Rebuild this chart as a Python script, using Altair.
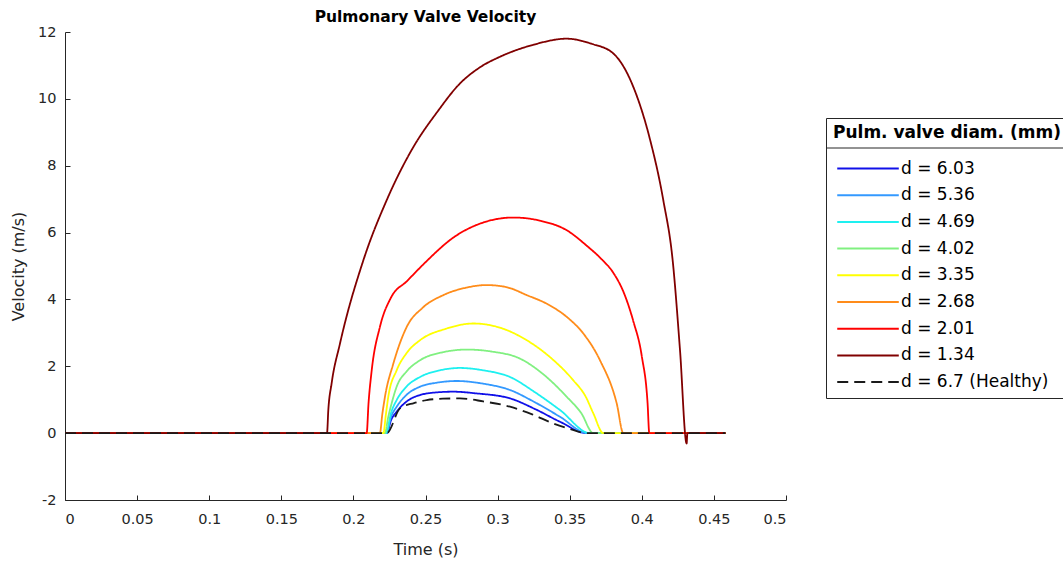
import altair as alt
import pandas as pd

# Series labels, colours and dash patterns (legend order)
series_names = [
    "d = 6.03", "d = 5.36", "d = 4.69", "d = 4.02",
    "d = 3.35", "d = 2.68", "d = 2.01", "d = 1.34",
    "d = 6.7 (Healthy)",
]
series_colors = [
    "#1010e8", "#3399ff", "#1ef0f0", "#80f080",
    "#ffff00", "#ff8c1a", "#ff0000", "#800000",
    "#1a1a1a",
]
series_dash = [[1, 0]] * 8 + [[11, 6]]

# Time (s) and velocity (m/s) samples for each valve diameter
t_603 = [0, 0.2231, 0.2262, 0.2300, 0.2370, 0.2462, 0.2580, 0.2693, 0.2850, 0.3086, 0.3260, 0.3433, 0.3618, 0.458]
v_603 = [0, 0, 0.40, 0.64, 0.95, 1.14, 1.22, 1.24, 1.19, 1.04, 0.72, 0.34, 0, 0]

t_536 = [0, 0.2228, 0.2262, 0.2300, 0.2370, 0.2462, 0.2580, 0.2716, 0.2900, 0.3086, 0.3260, 0.3433, 0.3622, 0.458]
v_536 = [0, 0, 0.50, 0.79, 1.15, 1.39, 1.51, 1.56, 1.48, 1.29, 0.92, 0.49, 0, 0]

t_469 = [0, 0.2226, 0.2262, 0.2300, 0.2370, 0.2462, 0.2600, 0.2739, 0.2900, 0.3086, 0.3260, 0.3433, 0.3641, 0.458]
v_469 = [0, 0, 0.62, 0.99, 1.40, 1.68, 1.88, 1.95, 1.88, 1.68, 1.22, 0.69, 0, 0]

t_402 = [0, 0.2219, 0.2240, 0.2265, 0.2300, 0.2370, 0.2462, 0.2620, 0.2786, 0.2960, 0.3155, 0.3320, 0.3479, 0.3580, 0.3664, 0.458]
v_402 = [0, 0, 0.45, 0.89, 1.39, 1.85, 2.18, 2.42, 2.50, 2.44, 2.23, 1.75, 1.09, 0.60, 0, 0]

t_335 = [0, 0.2208, 0.2225, 0.2242, 0.2300, 0.2370, 0.2462, 0.2640, 0.2832, 0.3020, 0.3202, 0.3370, 0.3525, 0.3610, 0.3664, 0.3733, 0.458]
v_335 = [0, 0, 0.55, 1.09, 1.88, 2.40, 2.78, 3.12, 3.28, 3.15, 2.78, 2.25, 1.58, 1.10, 0.59, 0, 0]

t_268 = [0, 0.2184, 0.2200, 0.2219, 0.2277, 0.2370, 0.2480, 0.2624, 0.2780, 0.2924, 0.3060, 0.3202, 0.3350, 0.3479, 0.3600, 0.3710, 0.3826, 0.3872, 0.458]
v_268 = [0, 0, 0.55, 1.09, 2.08, 3.18, 3.75, 4.13, 4.35, 4.43, 4.37, 4.13, 3.85, 3.48, 2.95, 2.18, 0.89, 0, 0]

t_201 = [0, 0.2092, 0.2105, 0.2127, 0.2184, 0.2260, 0.2372, 0.2497, 0.2693, 0.2900, 0.3109, 0.3300, 0.3479, 0.3620, 0.3722, 0.3802, 0.3880, 0.3941, 0.4000, 0.4040, 0.4052, 0.458]
v_201 = [0, 0, 0.90, 1.88, 3.18, 4.05, 4.55, 5.10, 5.85, 6.30, 6.45, 6.35, 6.07, 5.60, 5.20, 4.80, 4.15, 3.35, 2.30, 0.90, 0, 0]

t_134 = [0, 0.1817, 0.1826, 0.1849, 0.1907, 0.2069, 0.2231, 0.2416, 0.2580, 0.2739, 0.2880, 0.3017, 0.3250, 0.3479, 0.3650, 0.3802, 0.3941, 0.4050, 0.4149, 0.4214, 0.4265, 0.4311, 0.4316, 0.458]
v_134 = [0, 0, 0.69, 1.49, 2.68, 5.17, 6.97, 8.56, 9.60, 10.46, 10.95, 11.26, 11.62, 11.80, 11.65, 11.36, 10.36, 8.90, 6.97, 5.17, 2.48, -0.31, 0, 0]

t_healthy = [0, 0.2231, 0.2323, 0.2420, 0.2508, 0.2620, 0.2739, 0.2900, 0.3086, 0.3240, 0.3386, 0.3500, 0.3618, 0.458]
v_healthy = [0, 0, 0.74, 0.90, 0.99, 1.03, 1.04, 0.95, 0.79, 0.56, 0.29, 0.13, 0, 0]

x_ticks = [0, 0.05, 0.1, 0.15, 0.2, 0.25, 0.3, 0.35, 0.4, 0.45, 0.5]
y_ticks = [-2, 0, 2, 4, 6, 8, 10, 12]

t_lists = [t_603, t_536, t_469, t_402, t_335, t_268, t_201, t_134, t_healthy]
v_lists = [v_603, v_536, v_469, v_402, v_335, v_268, v_201, v_134, v_healthy]

rows = []
for name, ts, vs in zip(series_names, t_lists, v_lists):
    for i, (t, v) in enumerate(zip(ts, vs)):
        rows.append({"series": name, "t": t, "v": v, "i": i})
df = pd.DataFrame(rows)

W, H = 721, 468
FONT = "DejaVu Sans"
INK = "#262626"

x_scale = alt.Scale(domain=[0, 0.5], nice=False, zero=False)
y_scale = alt.Scale(domain=[-2, 12], nice=False, zero=False)
color_scale = alt.Scale(domain=series_names, range=series_colors)
dash_scale = alt.Scale(domain=series_names, range=series_dash)

legend = alt.Legend(
    title="Pulm. valve diam. (mm)",
    orient="none",
    legendX=761,
    legendY=86,
)

healthy = series_names[-1]
base = alt.Chart(df)

# Coloured curves carry the labelled axes
curves = base.transform_filter(alt.datum.series != healthy).mark_line(
    strokeWidth=1.8, interpolate="monotone"
).encode(
    x=alt.X("t:Q", scale=x_scale, axis=alt.Axis(
        title="Time (s)", values=x_ticks, format="~g", ticks=False, grid=False,
        labelPadding=12, titlePadding=16, domainColor=INK)),
    y=alt.Y("v:Q", scale=y_scale, axis=alt.Axis(
        title="Velocity (m/s)", values=y_ticks, labelExpr="'' + datum.value",
        ticks=False, grid=False, labelPadding=9, titlePadding=11, domainColor=INK)),
    color=alt.Color("series:N", scale=color_scale, legend=legend),
    strokeDash=alt.StrokeDash("series:N", scale=dash_scale, legend=legend),
    order="i:Q",
)

# Healthy reference curve on top; its axes draw the inward tick marks only
reference = base.transform_filter(alt.datum.series == healthy).mark_line(
    strokeWidth=1.8, interpolate="monotone"
).encode(
    x=alt.X("t:Q", scale=x_scale, axis=alt.Axis(
        orient="top", offset=-H, values=x_ticks, labels=False, domain=False,
        ticks=True, tickSize=5, tickColor=INK, grid=False, title=None)),
    y=alt.Y("v:Q", scale=y_scale, axis=alt.Axis(
        orient="right", offset=-W, values=y_ticks, labels=False, domain=False,
        ticks=True, tickSize=5, tickColor=INK, grid=False, title=None)),
    color=alt.Color("series:N", scale=color_scale, legend=legend),
    strokeDash=alt.StrokeDash("series:N", scale=dash_scale, legend=legend),
    order="i:Q",
)

# Rule under the legend title
separator = alt.Chart(pd.DataFrame({"k": [0]})).mark_rule(color=INK, strokeWidth=1).encode(
    x=alt.value(761), x2=alt.value(1010), y=alt.value(116)
)

chart = (
    alt.layer(curves, reference, separator)
    .resolve_axis(x="independent", y="independent")
    .properties(
        width=W,
        height=H,
        title=alt.TitleParams(
            "Pulmonary Valve Velocity", font=FONT, fontSize=15.5, fontWeight="bold",
            color="black", anchor="middle", offset=-1,
        ),
        autosize=alt.AutoSizeParams(type="none"),
        padding={"left": 65, "top": 32, "right": 277, "bottom": 63},
    )
    .configure_view(stroke=None)
    .configure_axis(
        labelFont=FONT, titleFont=FONT, labelFontSize=14.5, titleFontSize=16,
        labelColor=INK, titleColor=INK, titleFontWeight="normal", domainWidth=1,
    )
    .configure_legend(
        strokeColor=INK, padding=7, cornerRadius=0,
        titleFont=FONT, titleFontSize=17, titleFontWeight="bold", titleColor="black",
        titlePadding=15, titleLimit=400, labelLimit=400,
        labelFont=FONT, labelFontSize=17, labelColor="black",
        symbolType="M-1,0H5", symbolSize=421, symbolStrokeWidth=2,
        rowPadding=6.7, labelOffset=42, symbolOffset=3,
    )
)

chart.save("out.html", embed_options={"renderer": "svg", "actions": False})
